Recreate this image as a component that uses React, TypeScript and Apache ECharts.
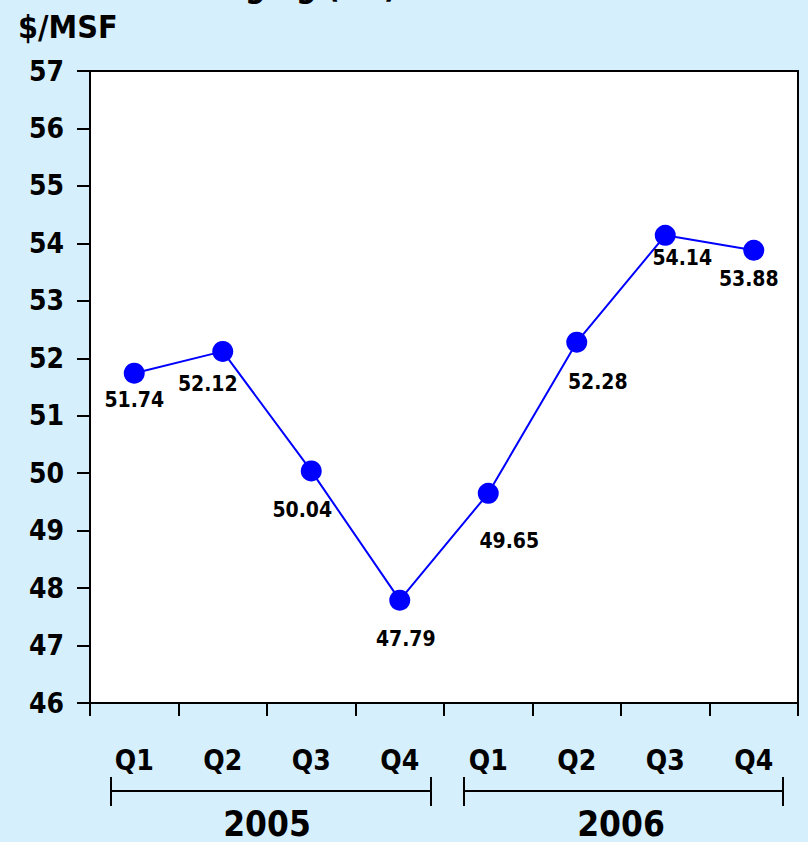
import React, { useEffect, useRef } from "react";
import * as echarts from "echarts";

const quarters = ["Q1", "Q2", "Q3", "Q4", "Q1", "Q2", "Q3", "Q4"];
const years = ["2005", "2006"];
const prices = [51.74, 52.12, 50.04, 47.79, 49.65, 52.28, 54.14, 53.88];
const labelOffsets: number[][] = [
  [0, 0], [-15, 6], [-9, 12], [6, 12], [21, 21], [21, 13], [17, -4], [-5, 2],
];

const FONT = "'Liberation Sans Narrow', 'Arial Narrow', 'DejaVu Sans Condensed', sans-serif";
const BG = "#D5EFFC";

export default function App() {
  const ref = useRef<HTMLDivElement>(null);
  useEffect(() => {
    if (!ref.current) return;
    const chart = echarts.init(ref.current, undefined, { renderer: "svg" });
    const bracket = (x1: number, x2: number) => [
      { type: "line", shape: { x1, y1: 777, x2: x1, y2: 806 }, style: { stroke: "#000", lineWidth: 2 } },
      { type: "line", shape: { x1: x2, y1: 777, x2, y2: 806 }, style: { stroke: "#000", lineWidth: 2 } },
      { type: "line", shape: { x1, y1: 791, x2, y2: 791 }, style: { stroke: "#000", lineWidth: 2 } },
    ];
    chart.setOption({
      animation: false,
      backgroundColor: BG,
      textStyle: { fontFamily: FONT },
      grid: {
        left: 90, right: 10, top: 71, bottom: 139,
        show: true, backgroundColor: "#fff", borderColor: "#000", borderWidth: 2,
      },
      xAxis: [
        {
          type: "category",
          data: quarters,
          boundaryGap: true,
          axisLine: { lineStyle: { color: "#000", width: 2 } },
          axisTick: { show: true, length: 13, lineStyle: { color: "#000", width: 2 } },
          axisLabel: { color: "#000", fontSize: 28, fontWeight: "bold", margin: 43, fontFamily: FONT },
        },
        {
          type: "category",
          data: years,
          position: "bottom",
          boundaryGap: true,
          axisLine: { show: false },
          axisTick: { show: false },
          axisLabel: { color: "#000", fontSize: 35, fontWeight: "bold", margin: 103, fontFamily: FONT },
        },
      ],
      yAxis: {
        type: "value",
        min: 46, max: 57, interval: 1,
        axisLine: { show: true, lineStyle: { color: "#000", width: 2 } },
        axisTick: { show: true, length: 13, lineStyle: { color: "#000", width: 2 } },
        splitLine: { show: false },
        axisLabel: { color: "#000", fontSize: 28, fontWeight: "bold", margin: 26, fontFamily: FONT },
      },
      graphic: [
        {
          type: "text", right: 411, top: -30,
          style: { text: "Packaging (US)", font: `bold 32px ${FONT}`, fill: "#000" },
        },
        {
          type: "text", left: 18, top: 11,
          style: { text: "$/MSF", font: `bold 32px ${FONT}`, fill: "#000" },
        },
        ...bracket(111, 431),
        ...bracket(464, 783),
      ],
      series: [
        {
          type: "line",
          data: prices.map((v, i) => ({ value: v, label: { offset: labelOffsets[i] } })),
          symbol: "circle",
          symbolSize: 21,
          itemStyle: { color: "#0000FF" },
          lineStyle: { color: "#0000FF", width: 2 },
          label: {
            show: true, position: "bottom", distance: 6,
            color: "#000", fontSize: 21, fontWeight: "bold", fontFamily: FONT,
            formatter: (p: any) => p.value.toFixed(2),
          },
        },
      ],
    });
    return () => chart.dispose();
  }, []);
  return (
    <div
      ref={ref}
      style={{ position: "absolute", left: 0, top: 0, width: 808, height: 842 }}
    />
  );
}
